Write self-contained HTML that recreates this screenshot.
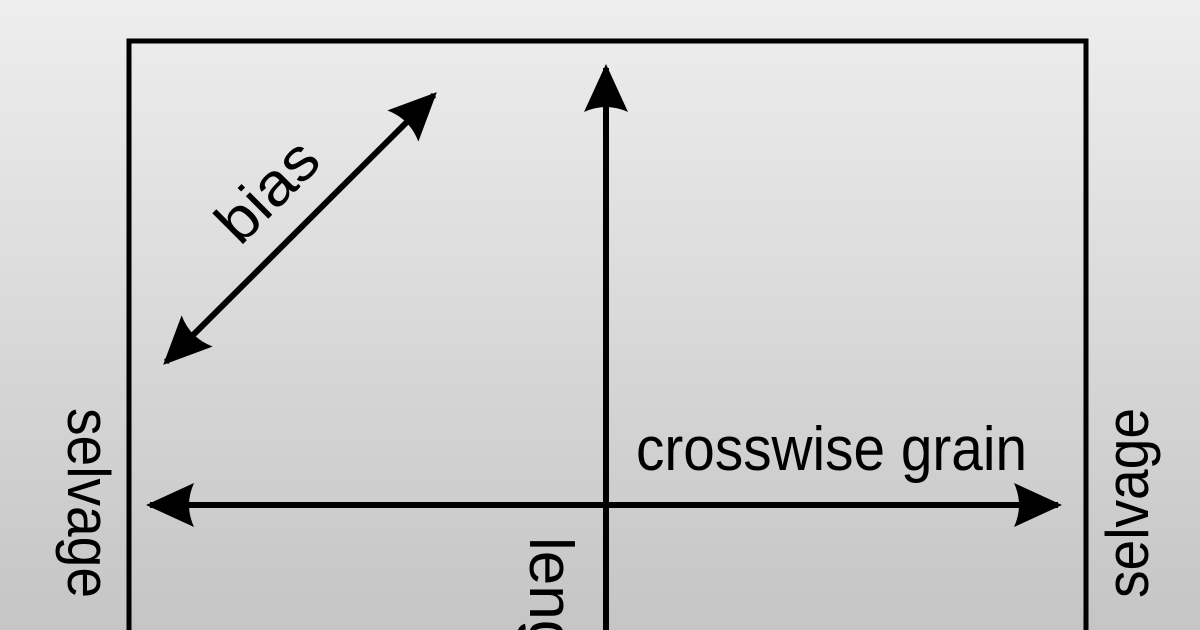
<!DOCTYPE html>
<html><head><meta charset="utf-8"><style>
html,body{margin:0;padding:0;width:1200px;height:630px;overflow:hidden;}
body{background:linear-gradient(#eeeeee,#c5c5c5);}
svg{display:block;}
svg text{font-family:"Liberation Sans",sans-serif;fill:#000;}
</style></head><body>
<svg width="1200" height="630" viewBox="0 0 1200 630" xmlns="http://www.w3.org/2000/svg" overflow="hidden">
<defs>
<marker id="ah" viewBox="0 0 48 44" refX="44" refY="22" markerWidth="48" markerHeight="44" markerUnits="userSpaceOnUse" orient="auto-start-reverse">
<path d="M0 0 L48 22 L0 44 Q10 22 0 0Z" fill="#000"/>
</marker>
</defs>
<path d="M129 640 V41 H1086 V640" fill="none" stroke="#000" stroke-width="5"/>
<line x1="606" y1="640" x2="606" y2="68" stroke="#000" stroke-width="6" marker-end="url(#ah)"/>
<line x1="150" y1="505" x2="1058" y2="505" stroke="#000" stroke-width="6" marker-start="url(#ah)" marker-end="url(#ah)"/>
<line x1="166" y1="362" x2="434" y2="95" stroke="#000" stroke-width="6" marker-start="url(#ah)" marker-end="url(#ah)"/>
<text x="0" y="0" font-size="60" textLength="118" lengthAdjust="spacingAndGlyphs" transform="translate(240,247) rotate(-45)">bias</text>
<text x="636" y="470" font-size="62" textLength="391" lengthAdjust="spacingAndGlyphs">crosswise grain</text>
<text x="0" y="0" font-size="60" textLength="190" lengthAdjust="spacingAndGlyphs" transform="translate(68,408) rotate(90)">selvage</text>
<text x="0" y="0" font-size="60" textLength="190" lengthAdjust="spacingAndGlyphs" transform="translate(1148,598) rotate(-90)">selvage</text>
<text x="0" y="0" font-size="62" transform="translate(530,537) rotate(90)">leng</text>
</svg>
</body></html>
